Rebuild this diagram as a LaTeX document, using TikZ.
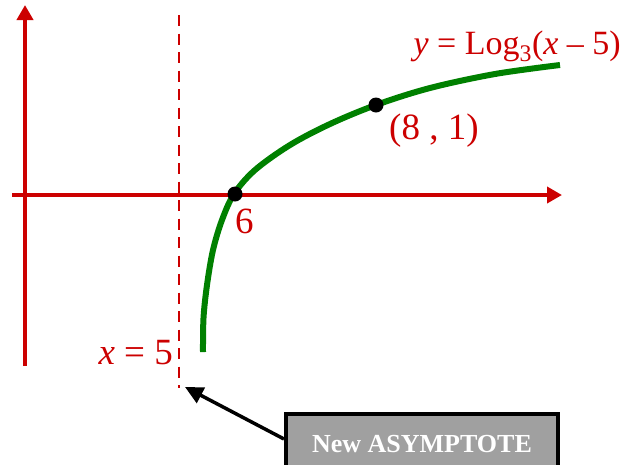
\documentclass[tikz,border=0pt]{standalone}
\usepackage{fontspec}
\setmainfont{Liberation Serif}
\usetikzlibrary{arrows.meta}
\definecolor{axisred}{RGB}{204,0,0}
\definecolor{curvegreen}{RGB}{0,128,0}
\definecolor{boxgray}{RGB}{160,160,160}
\begin{document}
\begin{tikzpicture}[x=1pt,y=-1pt,
  axis/.style={draw=axisred,line width=4pt,-{Triangle[length=15pt,width=16pt]}},
  asym/.style={draw=axisred,line width=2.6pt,dash pattern=on 11pt off 7.5pt},
  lbl/.style={text=axisred,inner sep=0pt,font=\fontsize{37}{40}\selectfont},
  dot/.style={circle,fill=black,inner sep=0pt,minimum size=15pt},
  notebox/.style={draw=black,line width=4pt,fill=boxgray,text=white,minimum width=272pt,minimum height=60pt,inner sep=0pt,font=\fontsize{26}{30}\selectfont\bfseries,anchor=north west}]
\useasboundingbox (0,0) rectangle (634,464);
% axes
\coordinate (ybot) at (25,366);
\coordinate (ytop) at (25,5);
\coordinate (xleft) at (12,195);
\coordinate (xright) at (562,195);
\draw[axis] (ybot) -- (ytop);
\draw[axis] (xleft) -- (xright);
% asymptote
\coordinate (atop) at (179,15);
\coordinate (abot) at (179,388);
\draw[asym] (atop) -- (abot);
% curve
\draw[curvegreen,line width=6pt] plot[smooth,tension=0.55] coordinates
  {(203,352) (203.5,318) (207,285) (213,250) (222,220) (234,194) (255,170) (290,145) (330,124) (376,105) (430,88) (495,74) (560,65)};
% points
\node[dot] (p6) at (235,194) {};
\node[dot] (p8) at (376,105) {};
% labels
\node[lbl,anchor=base east] (flabel) at (621,54) {\fontsize{34}{38}\selectfont\textit{y} = Log\textsubscript{3}(\textit{x} – 5)};
\node[lbl,anchor=base west] (l8) at (389,139) {(8 , 1)};
\node[lbl,anchor=base west] (l6) at (235,233) {6};
\node[lbl,anchor=base east] (l5) at (173,364) {\textit{x} = 5};
% box and arrow
\node[notebox] (box) at (284,412) {New ASYMPTOTE};
\coordinate (tip) at (185,387);
\draw[line width=3.5pt,-{Triangle[length=18pt,width=17pt]}] (box.west) ++(0,-5) coordinate (astart) (astart) -- (tip);
\end{tikzpicture}
\end{document}
